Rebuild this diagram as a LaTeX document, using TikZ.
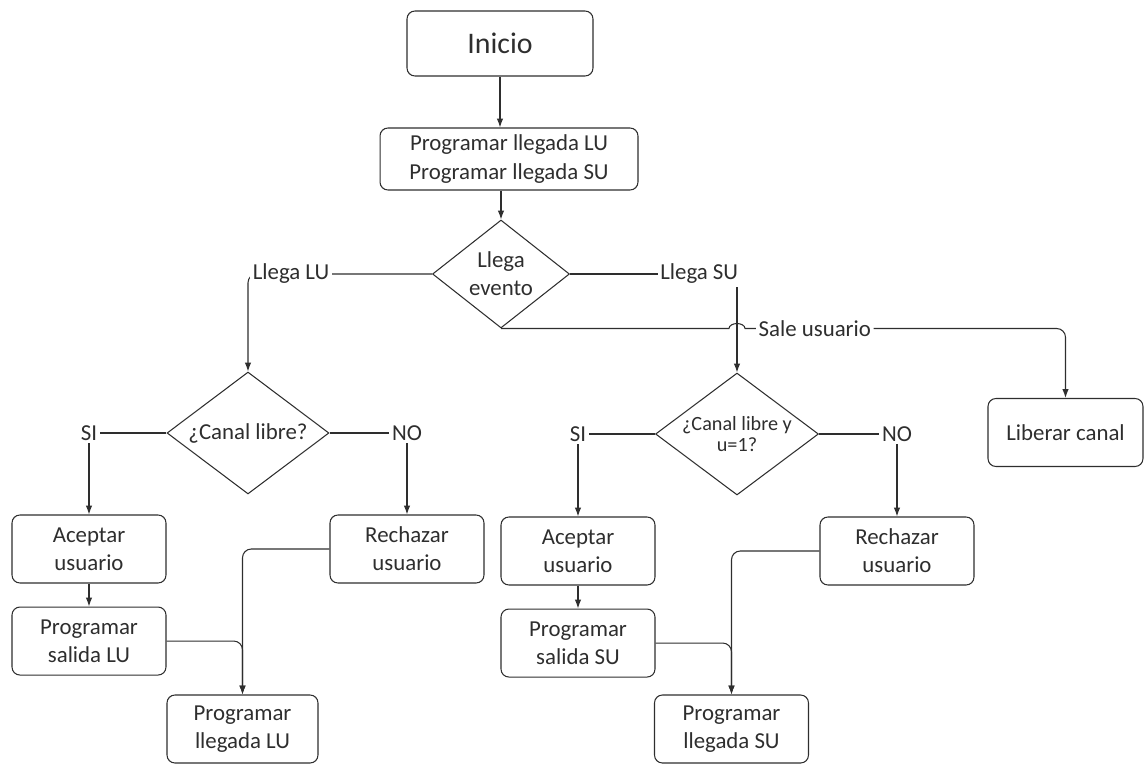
\documentclass[tikz,border=0pt]{standalone}
\usepackage{fontspec}
\setmainfont{Carlito}
\usetikzlibrary{arrows.meta,shapes,positioning}

\begin{document}
\begin{tikzpicture}[
        x=0.02cm, y=-0.02cm,
        node distance=.46cm and .5cm,
        color=black!82,
        >={Latex[length=5pt,width=3.6pt]},
        every node/.style={font=\fontsize{13}{16}\selectfont},
        every path/.style={line width=.6pt},
        process/.style={draw, rounded corners=4.5pt, align=center, minimum width=3.08cm, minimum height=1.36cm, inner sep=2pt},
        decision/.style={draw, diamond, align=center, inner sep=0pt, aspect=1.33},
        lbl/.style={fill=white, inner sep=1.5pt}
    ]

    \useasboundingbox (0,0) rectangle (1144,764);

    % Nodes
    \node (ini) [process, minimum width=3.72cm, minimum height=1.3cm, font=\fontsize{17}{20}\selectfont] at (500,43.5) {Inicio};

    \node (prog) [process, minimum width=5.16cm, minimum height=1.24cm] at (509,159) {Programar llegada LU\\
        Programar llegada SU};

    \node (ev) [decision, aspect=1.27, minimum width=2.74cm, minimum height=2.16cm] at (501,274) {Llega\\ evento};

    \node (cl1) [decision, minimum width=3.24cm, minimum height=2.44cm] at (248,433) {¿Canal libre?};

    \node (cl2) [decision, minimum width=3.26cm, minimum height=2.44cm, font=\fontsize{11.5}{11.5}\selectfont] at (737,434) {¿Canal libre y\\ u=1?};

    \node (ac1) [process] at (89,549) {Aceptar\\ usuario};
    \node (ps1) [process, below=of ac1] {Programar\\ salida LU};
    \node (re1) [process] at (407,549) {Rechazar\\ usuario};
    \node (pl1) [process, minimum width=3.02cm] at (242.5,729) {Programar\\ llegada LU};

    \node (ac2) [process] at (578,551) {Aceptar\\ usuario};
    \node (ps2) [process, below=of ac2] {Programar\\ salida SU};
    \node (re2) [process] at (897,551) {Rechazar\\ usuario};
    \node (pl2) [process] at (731.5,729) {Programar\\ llegada SU};

    \node (lib) [process, minimum width=3.1cm] at (1065.5,432.5) {Liberar canal};

    % Edges
    \draw[->] (ini) -- (ini |- prog.north);
    \draw[->] (prog.south -| ev.north) -- (ev.north);

    \draw[->, rounded corners=5pt] (ev.west) -| node[lbl, pos=.383] (llu) {Llega LU} (cl1.north);
    \draw[->] (ev.east) -| node[lbl, pos=.387] (lsu) {Llega SU} (cl2.north);
    \draw[->] (ev.south) -- ([xshift=-.16cm]ev.south -| cl2.north)
        arc[start angle=180, end angle=0, x radius=.16cm, y radius=.1cm]
        [rounded corners=5pt] -| node[lbl, pos=.109] (sal) {Sale usuario} (lib.north);

    \draw[->] (cl1.west) -| node[lbl, midway] (si1) {SI} (ac1.north);
    \draw[->] (cl1.east) -| node[lbl, midway] (no1) {NO} (re1.north);
    \draw[->] (cl2.west) -| node[lbl, midway] (si2) {SI} (ac2.north);
    \draw[->] (cl2.east) -| node[lbl, midway] (no2) {NO} (re2.north);

    \draw[->] (ac1) -- (ps1);
    \draw[->, rounded corners=5pt] (re1.west) -| (pl1.north);
    \draw[->, rounded corners=5pt] (ps1.east) -| (pl1.north);

    \draw[->] (ac2) -- (ps2);
    \draw[->, rounded corners=5pt] (re2.west) -| (pl2.north);
    \draw[->, rounded corners=5pt] (ps2.east) -| (pl2.north);

\end{tikzpicture}
\end{document}
